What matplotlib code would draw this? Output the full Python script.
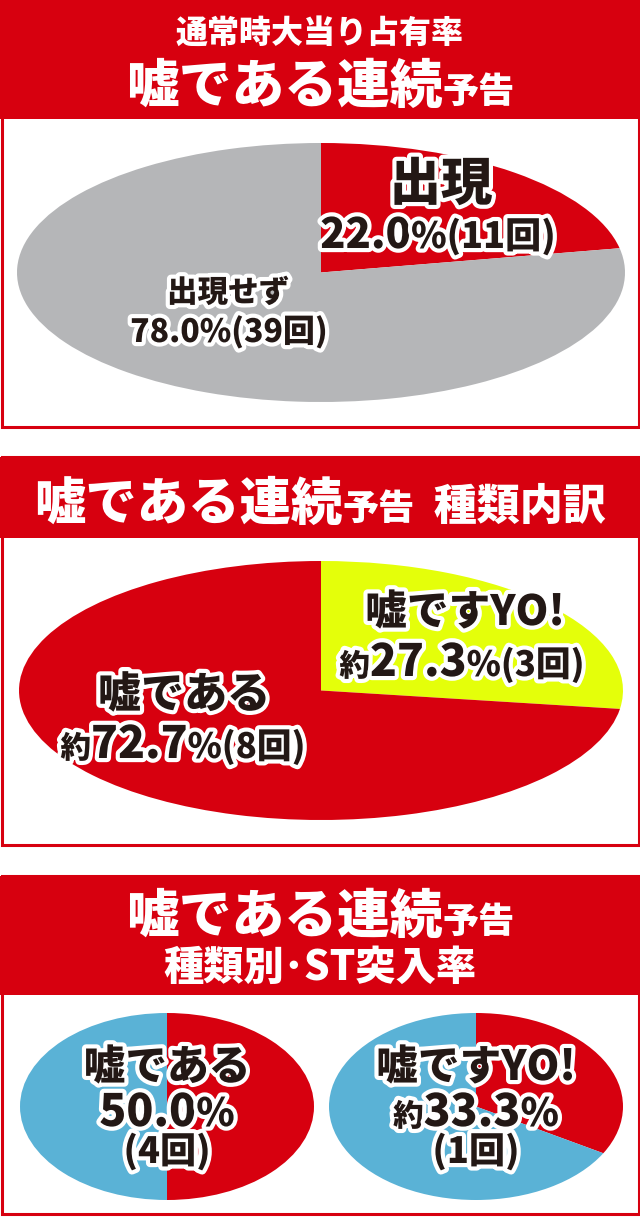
import matplotlib
matplotlib.use('Agg')
import matplotlib.pyplot as plt
import matplotlib.patheffects as pe
from matplotlib.patches import Rectangle

plt.rcParams['font.family'] = ['Noto Sans CJK JP', 'DejaVu Sans']

# data
occur_labels = ['出現', '出現せず']
occur_counts = [11, 39]

type_labels = ['嘘ですYO!', '嘘である']
type_counts = [3, 8]

st_labels = ['嘘である', '嘘ですYO!']
st_hits = [4, 1]
st_totals = [8, 3]

RED = '#D7000F'
GRAY = '#B5B6B8'
YELLOW = '#E4FF0A'
BLUE = '#5AB2D6'
INK = '#231815'

W, H = 640, 1218
fig = plt.figure(figsize=(W / 100, H / 100), dpi=100)
bg = fig.add_axes([0, 0, 1, 1])
bg.set_xlim(0, W)
bg.set_ylim(H, 0)
bg.axis('off')

# text layer above the pies
top = fig.add_axes([0, 0, 1, 1])
top.set_xlim(0, W)
top.set_ylim(H, 0)
top.axis('off')
top.set_zorder(10)
renderer = fig.canvas.get_renderer()


def panel(y0, head_bottom, y1):
    bg.add_patch(Rectangle((1.5, y0), W - 3, y1 - y0, facecolor='white',
                           edgecolor=RED, lw=2.2))
    bg.add_patch(Rectangle((0, y0), W, head_bottom - y0, facecolor=RED,
                           edgecolor='none'))


def line(x, y, parts, color=INK, outline=True):
    # parts: list of (text, fontsize); drawn side by side and centred on x
    texts = []
    for s, size in parts:
        t = top.text(0, y, s, fontsize=size, color=color, fontweight='black',
                     ha='left', va='baseline')
        if outline:
            t.set_path_effects([pe.withStroke(linewidth=6, foreground='white')])
        texts.append(t)
    widths = [t.get_window_extent(renderer).width for t in texts]
    cur = x - sum(widths) / 2
    for t, w in zip(texts, widths):
        t.set_x(cur)
        cur += w


def pie(cx, cy, rx, ry, values, colors):
    ax = fig.add_axes([(cx - rx) / W, 1 - (cy + ry) / H, 2 * rx / W, 2 * ry / H])
    ax.pie(values, colors=colors, startangle=90, counterclock=False, radius=1,
           wedgeprops=dict(linewidth=0))
    ax.set_aspect('auto')
    ax.set_xlim(-1, 1)
    ax.set_ylim(-1, 1)
    ax.axis('off')
    return ax


def pct(n, total):
    return '%.1f' % (100.0 * n / total)


#++++++++++++++++++++++++++++++++++++++++++++++++++++++++++
# panel 1
panel(0, 119, 427)
line(320, 43, [('通常時大当り占有率', 23)], color='white', outline=False)
line(320, 103, [('嘘である連続', 38), ('予告', 26)], color='white', outline=False)

pie(321, 272.5, 304, 129.5, occur_counts, [RED, GRAY])
n_all = sum(occur_counts)
line(441, 200, [(occur_labels[0], 37)])
line(438, 248, [(pct(occur_counts[0], n_all), 30), ('%%(%d回)' % occur_counts[0], 26)])
line(228, 302, [(occur_labels[1], 22)])
line(229, 342, [(pct(occur_counts[1], n_all) + '%%(%d回)' % occur_counts[1], 23)])

#++++++++++++++++++++++++++++++++++++++++++++++++++++++++++
# panel 2
panel(457, 538, 845)
line(320, 520, [('嘘である連続', 37), ('予告', 26), ('  種類内訳', 31)],
     color='white', outline=False)

pie(321, 690.5, 302, 129.5, type_counts, [YELLOW, RED])
n_type = sum(type_counts)
line(465, 625, [(type_labels[0], 30)])
line(462, 676, [('約', 22), (pct(type_counts[0], n_type), 32),
                ('%%(%d回)' % type_counts[0], 25)])
line(184, 708, [(type_labels[1], 31)])
line(183, 758, [('約', 22), (pct(type_counts[1], n_type), 32),
                ('%%(%d回)' % type_counts[1], 25)])

#++++++++++++++++++++++++++++++++++++++++++++++++++++++++++
# panel 3
panel(876, 995, 1214)
line(320, 933, [('嘘である連続', 38), ('予告', 26)], color='white', outline=False)
line(320, 980, [('種類別･ST突入率', 29)], color='white', outline=False)

centers = [167, 476]
for cx, lab, hit, tot in zip(centers, st_labels, st_hits, st_totals):
    pie(cx, 1106.5, 147, 93.5, [hit, tot - hit], [RED, BLUE])
    line(cx, 1080, [(lab, 30)])
    p = pct(hit, tot)
    if 100 * hit % tot == 0:
        line(cx, 1126, [(p, 32), ('%', 28)])
    else:
        line(cx, 1126, [('約', 22), (p, 32), ('%', 28)])
    line(cx, 1163, [('(%d回)' % hit, 26)])

fig.savefig('out.png', dpi=100)
